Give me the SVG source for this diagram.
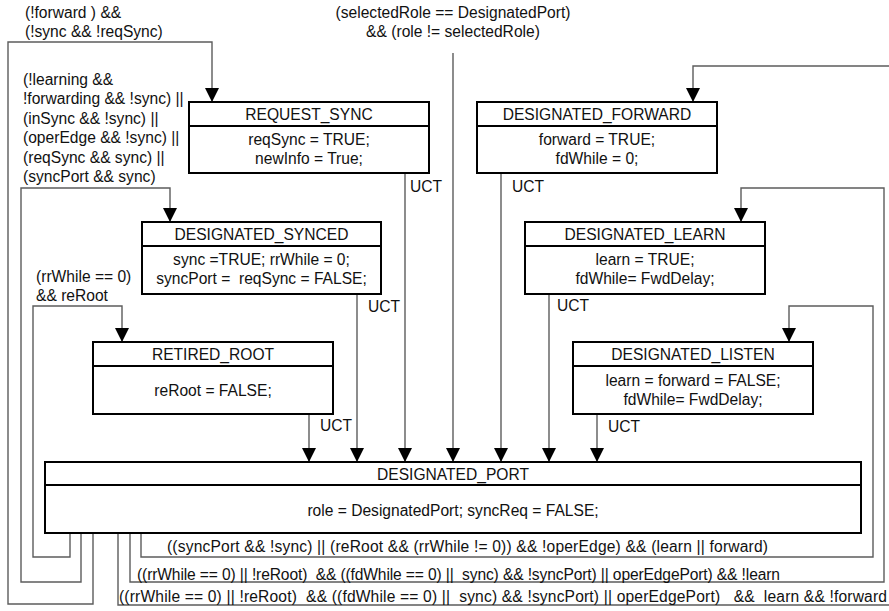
<svg xmlns="http://www.w3.org/2000/svg" width="889" height="611" viewBox="0 0 889 611">
  <style>
    text { font-family: "Liberation Sans", Arial, sans-serif; font-size: 15.6px; fill: #111; }
    .c { text-anchor: middle; }
    .box { fill: #fff; stroke: #000; stroke-width: 2; }
    .div { stroke: #000; stroke-width: 2; }
    .arr { fill: none; stroke: #5c5c5c; stroke-width: 1.4; marker-end: url(#head); }
  </style>
  <defs>
    <marker id="head" markerUnits="userSpaceOnUse" viewBox="0 0 14 14" refX="14" refY="7" markerWidth="14" markerHeight="14" orient="auto">
      <path d="M0,0 L14,7 L0,14 z" fill="#000"/>
    </marker>
  </defs>
  <rect width="889" height="611" fill="#fff"/>

  <!-- transitions -->
  <g id="connectors">
    <!-- into DESIGNATED_PORT -->
    <path class="arr" d="M453,53 V462"/>
    <path class="arr" d="M405,173 V462"/>
    <path class="arr" d="M501,173 V462"/>
    <path class="arr" d="M357,294 V462"/>
    <path class="arr" d="M549,294 V462"/>
    <path class="arr" d="M309,414 V462"/>
    <path class="arr" d="M597,414 V462"/>
    <!-- left-hand loops -->
    <path class="arr" d="M70,533 V557 H33 V306 H122 V342"/>
    <path class="arr" d="M81,533 V582 H21 V188 H170 V222"/>
    <path class="arr" d="M93,533 V604 H8 V42 H212 V102"/>
    <!-- right-hand loops -->
    <path class="arr" d="M141,533 V557 H873 V306 H789 V342"/>
    <path class="arr" d="M130,533 V582 H884 V188 H741 V222"/>
    <path class="arr" d="M118,533 V605 H892 V66 H693 V102"/>

    <text x="410" y="192">UCT</text>
    <text x="512" y="192">UCT</text>
    <text x="368" y="312">UCT</text>
    <text x="557" y="311">UCT</text>
    <text x="320" y="431">UCT</text>
    <text x="608" y="432">UCT</text>

    <text class="c" x="453" y="18">(selectedRole == DesignatedPort)</text>
    <text class="c" x="453" y="37">&amp;&amp; (role != selectedRole)</text>

    <text x="25" y="18">(!forward ) &amp;&amp;</text>
    <text x="25" y="37">(!sync &amp;&amp; !reqSync)</text>

    <text x="23" y="85">(!learning &amp;&amp;</text>
    <text x="23" y="104">!forwarding &amp;&amp; !sync) ||</text>
    <text x="23" y="124">(inSync &amp;&amp; !sync) ||</text>
    <text x="23" y="143">(operEdge &amp;&amp; !sync) ||</text>
    <text x="23" y="163">(reqSync &amp;&amp; sync) ||</text>
    <text x="23" y="182">(syncPort &amp;&amp; sync)</text>

    <text x="36" y="282">(rrWhile == 0)</text>
    <text x="36" y="301">&amp;&amp; reRoot</text>

    <text x="167" y="552" textLength="601">((syncPort &amp;&amp; !sync) || (reRoot &amp;&amp; (rrWhile != 0)) &amp;&amp; !operEdge) &amp;&amp; (learn || forward)</text>
    <text x="137" y="580" textLength="643" xml:space="preserve">((rrWhile == 0) || !reRoot)  &amp;&amp; ((fdWhile == 0) ||  sync) &amp;&amp; !syncPort) || operEdgePort) &amp;&amp; !learn</text>
    <text x="119" y="602" textLength="768" xml:space="preserve">((rrWhile == 0) || !reRoot)  &amp;&amp; ((fdWhile == 0) ||  sync) &amp;&amp; !syncPort) || operEdgePort)   &amp;&amp;  learn &amp;&amp; !forward</text>
  </g>

  <g id="request_sync">
    <rect class="box" x="189" y="102" width="240" height="71"/>
    <line class="div" x1="189" y1="126" x2="429" y2="126"/>
    <text class="c" x="309" y="120">REQUEST_SYNC</text>
    <text class="c" x="309" y="145">reqSync = TRUE;</text>
    <text class="c" x="309" y="164">newInfo = True;</text>
  </g>

  <g id="designated_forward">
    <rect class="box" x="477" y="102" width="240" height="71"/>
    <line class="div" x1="477" y1="126" x2="717" y2="126"/>
    <text class="c" x="597" y="120">DESIGNATED_FORWARD</text>
    <text class="c" x="597" y="145">forward = TRUE;</text>
    <text class="c" x="597" y="164">fdWhile = 0;</text>
  </g>

  <g id="designated_synced">
    <rect class="box" x="142" y="222" width="239" height="72"/>
    <line class="div" x1="142" y1="246" x2="381" y2="246"/>
    <text class="c" x="261.5" y="240">DESIGNATED_SYNCED</text>
    <text class="c" x="261.5" y="265">sync =TRUE; rrWhile = 0;</text>
    <text class="c" x="261.5" y="284" xml:space="preserve">syncPort =  reqSync = FALSE;</text>
  </g>

  <g id="designated_learn">
    <rect class="box" x="525" y="222" width="240" height="72"/>
    <line class="div" x1="525" y1="246" x2="765" y2="246"/>
    <text class="c" x="645" y="240">DESIGNATED_LEARN</text>
    <text class="c" x="645" y="265">learn = TRUE;</text>
    <text class="c" x="645" y="284">fdWhile= FwdDelay;</text>
  </g>

  <g id="retired_root">
    <rect class="box" x="93" y="342" width="240" height="72"/>
    <line class="div" x1="93" y1="366" x2="333" y2="366"/>
    <text class="c" x="213" y="360">RETIRED_ROOT</text>
    <text class="c" x="213" y="396">reRoot = FALSE;</text>
  </g>

  <g id="designated_listen">
    <rect class="box" x="573" y="342" width="240" height="72"/>
    <line class="div" x1="573" y1="366" x2="813" y2="366"/>
    <text class="c" x="693" y="360">DESIGNATED_LISTEN</text>
    <text class="c" x="693" y="386">learn = forward = FALSE;</text>
    <text class="c" x="693" y="405">fdWhile= FwdDelay;</text>
  </g>

  <g id="designated_port">
    <rect class="box" x="45" y="462" width="816" height="71"/>
    <line class="div" x1="45" y1="485" x2="861" y2="485"/>
    <text class="c" x="453" y="480">DESIGNATED_PORT</text>
    <text class="c" x="453" y="516">role = DesignatedPort; syncReq = FALSE;</text>
  </g>
</svg>
